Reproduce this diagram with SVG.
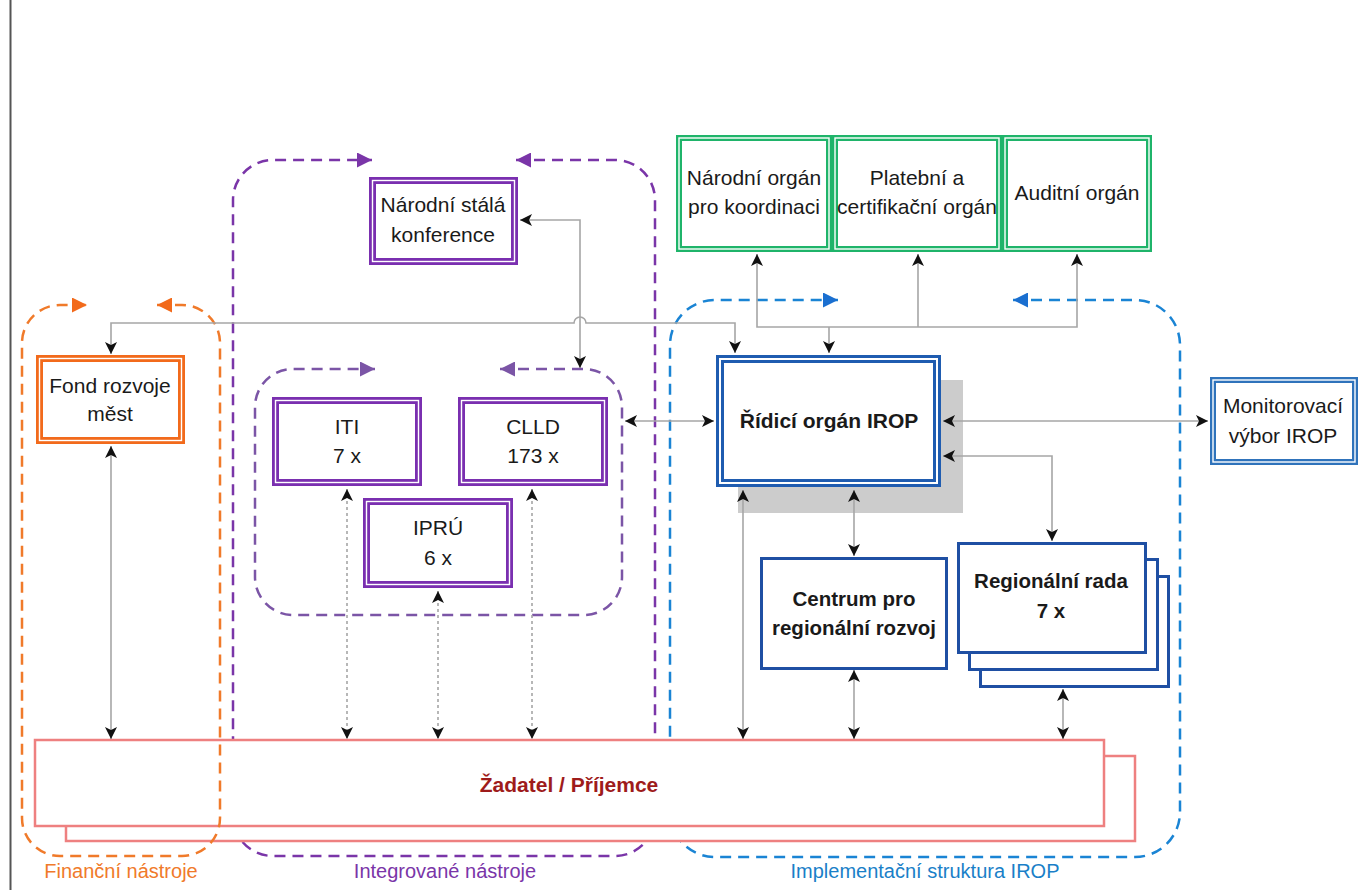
<svg xmlns="http://www.w3.org/2000/svg" width="1358" height="890" viewBox="0 0 1358 890">
<style>
text{font-family:"Liberation Sans",Arial,sans-serif;text-anchor:middle;fill:#1a1a1a;font-size:21px}
.b{font-weight:bold;font-size:20.5px}
.grp{fill:none;stroke-width:2.5;stroke-dasharray:11 7}
.con{fill:none;stroke:#a6a6a6;stroke-width:1.6;marker-start:url(#ah);marker-end:url(#ah)}
.dot{stroke-dasharray:3 3}
.pur{fill:#fff;stroke:#7a2fb0;stroke-width:7}
.org{fill:#fff;stroke:#f26a1b;stroke-width:7}
.grn{fill:#fff;stroke:#1fb46a;stroke-width:6}
.blu{fill:#fff;stroke:#1f5cb0;stroke-width:8}
.mon{fill:#fff;stroke:#2f73bb;stroke-width:6}
.in{fill:none;stroke:#fff;stroke-width:1.4}
.sng{fill:#fff;stroke:#1f4fa3;stroke-width:3}
.zad{fill:#fff;stroke:#ee8080;stroke-width:2.5}
</style>
<defs>
<marker id="ah" viewBox="0 0 12 12" refX="12" refY="6" markerWidth="12" markerHeight="12" markerUnits="userSpaceOnUse" orient="auto-start-reverse"><path d="M0,0 L12,6 L0,12 L3,6 z" fill="#111"/></marker>
<marker id="ao" viewBox="0 0 14 14" refX="14" refY="7" markerWidth="15" markerHeight="15" markerUnits="userSpaceOnUse" orient="auto-start-reverse"><path d="M0,0 L14,7 L0,14 z" fill="#f26a1b"/></marker>
<marker id="ap" viewBox="0 0 14 14" refX="14" refY="7" markerWidth="15" markerHeight="15" markerUnits="userSpaceOnUse" orient="auto-start-reverse"><path d="M0,0 L14,7 L0,14 z" fill="#7a35a8"/></marker>
<marker id="ap2" viewBox="0 0 14 14" refX="14" refY="7" markerWidth="15" markerHeight="15" markerUnits="userSpaceOnUse" orient="auto-start-reverse"><path d="M0,0 L14,7 L0,14 z" fill="#7b55a6"/></marker>
<marker id="ab" viewBox="0 0 14 14" refX="14" refY="7" markerWidth="15" markerHeight="15" markerUnits="userSpaceOnUse" orient="auto-start-reverse"><path d="M0,0 L14,7 L0,14 z" fill="#1a6fd0"/></marker>
</defs>
<rect width="1358" height="890" fill="#fff"/>
<line x1="10.5" y1="0" x2="10.5" y2="890" stroke="#555" stroke-width="2"/>

<g id="groups-back">
<path id="grp-integrovane" class="grp" stroke="#7a35a8" d="M516,160 H615 A40,40 0 0 1 655,200 V816 A40,40 0 0 1 615,856 H273 A40,40 0 0 1 233,816 V200 A40,40 0 0 1 273,160 H372" style="marker-start:url(#ap);marker-end:url(#ap)"/>
<path id="grp-inner" class="grp" stroke="#7b55a6" d="M500,369 H584 A38,38 0 0 1 622,407 V577 A38,38 0 0 1 584,615 H293 A38,38 0 0 1 255,577 V407 A38,38 0 0 1 293,369 H375" style="marker-start:url(#ap2);marker-end:url(#ap2)"/>
<path id="grp-implementacni" class="grp" stroke="#1a84d4" d="M1013,300 H1135 A45,45 0 0 1 1180,345 V812 A45,45 0 0 1 1135,857 H715 A45,45 0 0 1 670,812 V345 A45,45 0 0 1 715,300 H838" style="marker-start:url(#ab);marker-end:url(#ab)"/>
</g>

<g id="zadatel">
<rect class="zad" x="66" y="756" width="1069" height="85"/>
<rect class="zad" x="35" y="740" width="1069" height="86"/>
<text class="b" x="569" y="792" style="fill:#9e1b1b;font-size:21px">Žadatel / Příjemce</text>
</g>

<g id="grp-financni-g">
<path id="grp-financni" class="grp" stroke="#f07a2a" d="M157,305 H182 A38,38 0 0 1 220,343 V818 A38,38 0 0 1 182,856 H60 A38,38 0 0 1 22,818 V343 A38,38 0 0 1 60,305 H87" style="marker-start:url(#ao);marker-end:url(#ao)"/>
</g>

<g id="group-labels">
<text x="121" y="878" style="fill:#f07a2a;font-size:20px">Finanční nástroje</text>
<text x="445" y="878" style="fill:#7a35a8;font-size:20px">Integrované nástroje</text>
<text x="925" y="878" style="fill:#1a7fc8;font-size:20px">Implementační struktura IROP</text>
</g>

<g id="fond">
<rect class="org" x="39.5" y="358.5" width="142" height="82"/>
<rect class="in" x="39.5" y="358.5" width="142" height="82"/>
<text x="110" y="393">Fond rozvoje</text>
<text x="110" y="421">měst</text>
</g>

<g id="narodni-stala">
<rect class="pur" x="372.5" y="180.5" width="142" height="81"/>
<rect class="in" x="372.5" y="180.5" width="142" height="81"/>
<text x="443" y="212">Národní stálá</text>
<text x="443" y="242">konference</text>
</g>

<g id="iti">
<rect class="pur" x="275.5" y="400.5" width="143" height="82"/>
<rect class="in" x="275.5" y="400.5" width="143" height="82"/>
<text x="347" y="434">ITI</text>
<text x="347" y="463">7 x</text>
</g>

<g id="clld">
<rect class="pur" x="461.5" y="400.5" width="143" height="82"/>
<rect class="in" x="461.5" y="400.5" width="143" height="82"/>
<text x="533" y="434">CLLD</text>
<text x="533" y="463">173 x</text>
</g>

<g id="ipru">
<rect class="pur" x="366.5" y="501.5" width="143" height="83"/>
<rect class="in" x="366.5" y="501.5" width="143" height="83"/>
<text x="438" y="535">IPRÚ</text>
<text x="438" y="565">6 x</text>
</g>

<g id="narodni-organ">
<rect class="grn" x="679" y="138" width="150" height="111"/>
<rect class="in" x="679" y="138" width="150" height="111"/>
<text x="754" y="185">Národní orgán</text>
<text x="754" y="214">pro koordinaci</text>
</g>

<g id="platebni">
<rect class="grn" x="835" y="138" width="164" height="111"/>
<rect class="in" x="835" y="138" width="164" height="111"/>
<text x="917" y="185">Platební a</text>
<text x="917" y="214">certifikační orgán</text>
</g>

<g id="auditni">
<rect class="grn" x="1005" y="138" width="144" height="111"/>
<rect class="in" x="1005" y="138" width="144" height="111"/>
<text x="1077" y="200">Auditní orgán</text>
</g>

<g id="ridici">
<rect x="738" y="380" width="225" height="133" fill="#cccccc"/>
<rect class="blu" x="720" y="359" width="217" height="124"/>
<rect class="in" x="720" y="359" width="217" height="124" style="stroke-width:2"/>
<text class="b" x="829" y="428" style="font-size:21px">Řídicí orgán IROP</text>
</g>

<g id="monitorovaci">
<rect class="mon" x="1213" y="380" width="142" height="82"/>
<rect class="in" x="1213" y="380" width="142" height="82"/>
<text x="1283" y="413">Monitorovací</text>
<text x="1283" y="443">výbor IROP</text>
</g>

<g id="centrum">
<rect class="sng" x="761.5" y="558.5" width="185" height="110"/>
<text class="b" x="854" y="606">Centrum pro</text>
<text class="b" x="854" y="635">regionální rozvoj</text>
</g>

<g id="regionalni-rada">
<rect class="sng" x="980.5" y="576.5" width="188" height="110"/>
<rect class="sng" x="969.5" y="559.5" width="188" height="110"/>
<rect class="sng" x="958.5" y="543.5" width="187" height="109"/>
<text class="b" x="1051" y="588">Regionální rada</text>
<text class="b" x="1051" y="618">7 x</text>
</g>

<g id="connectors">
<path class="con" d="M111,354 V323 H574 A6,6 0 0 1 586,323 H735 V353"/>
<path class="con" d="M520,220 H580 V368"/>
<path class="con" d="M757,254 V327 H1077 V254"/>
<path class="con" d="M918,327 V254" style="marker-start:none"/>
<path class="con" d="M829,327 V353" style="marker-start:none"/>
<path class="con" d="M625,421 H714"/>
<path class="con" d="M943,421 H1208"/>
<path class="con" d="M943,456 H1052 V541"/>
<path class="con" d="M743,490 V739"/>
<path class="con" d="M854,490 V556"/>
<path class="con" d="M854,670 V739"/>
<path class="con" d="M1063,689 V739"/>
<path class="con" d="M111,446 V739"/>
<path class="con dot" d="M347,489 V739"/>
<path class="con dot" d="M438,591 V739"/>
<path class="con dot" d="M532,489 V739"/>
</g>
</svg>
